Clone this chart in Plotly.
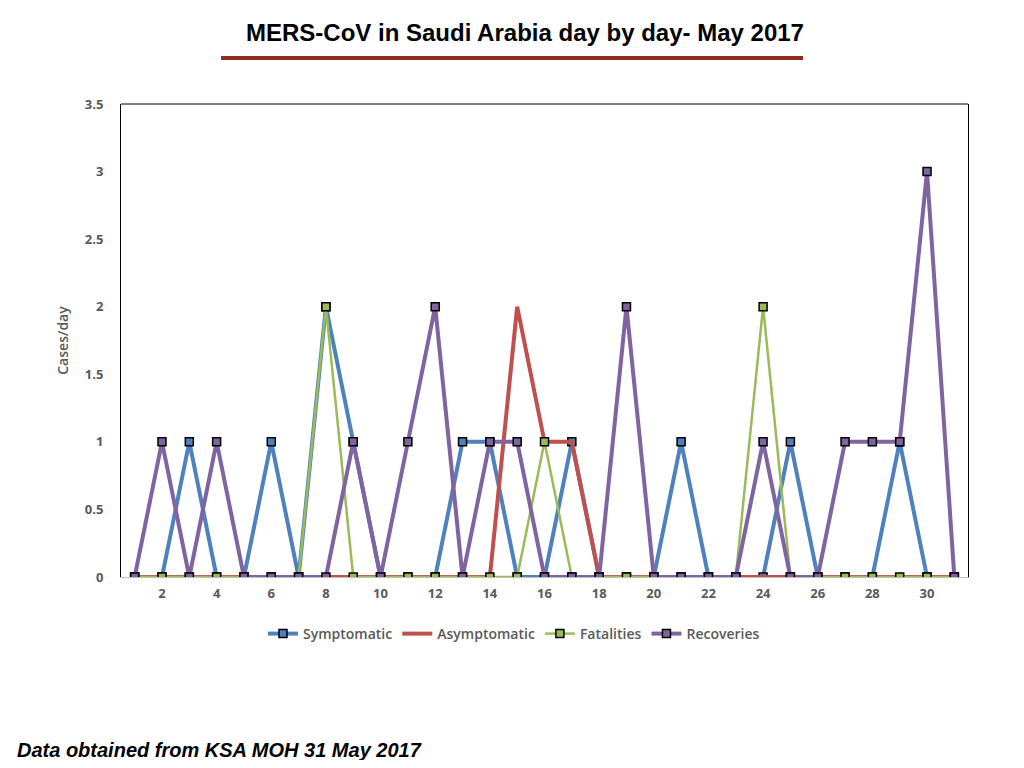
import plotly.graph_objects as go

days = list(range(1, 32))
symptomatic = [0, 0, 1, 0, 0, 1, 0, 2, 1, 0, 0, 0, 1, 1, 0, 0, 1, 0, 0, 0,
               1, 0, 0, 0, 1, 0, 0, 0, 1, 0, 0]
asymptomatic = [0, 0, 0, 0, 0, 0, 0, 0, 0, 0, 0, 0, 0, 0, 2, 1, 1, 0, 0, 0,
                0, 0, 0, 0, 0, 0, 0, 0, 0, 0, 0]
fatalities = [0, 0, 0, 0, 0, 0, 0, 2, 0, 0, 0, 0, 0, 0, 0, 1, 0, 0, 0, 0,
              0, 0, 0, 2, 0, 0, 0, 0, 0, 0, 0]
recoveries = [0, 1, 0, 1, 0, 0, 0, 0, 1, 0, 1, 2, 0, 1, 1, 0, 0, 0, 2, 0,
              0, 0, 0, 1, 0, 0, 1, 1, 1, 3, 0]

tick_days = list(range(2, 31, 2))
gray = '#595959'

series = [
    ('Symptomatic', symptomatic, '#4F81BD', 4, True),
    ('Asymptomatic', asymptomatic, '#C0504D', 4, False),
    ('Fatalities', fatalities, '#9BBB59', 2.5, True),
    ('Recoveries', recoveries, '#8064A2', 4, True),
]

fig = go.Figure()
for name, values, color, width, markers in series:
    fig.add_trace(go.Scatter(
        x=days, y=values, name=name,
        mode='lines+markers' if markers else 'lines',
        line=dict(color=color, width=width),
        marker=dict(symbol='square', size=8, color=color,
                    line=dict(color='black', width=1.5)),
    ))


def px_x(p):
    # screen pixel -> paper x
    return (p - 121) / 847


def px_y(p):
    # screen pixel -> paper y
    return (577 - p) / 473


fig.update_layout(
    width=1008, height=752,
    margin=dict(l=113, r=48, t=96, b=183),
    paper_bgcolor='white', plot_bgcolor='white',
    font=dict(family='Open Sans', color=gray, size=12),
    showlegend=True,
    legend=dict(orientation='h', x=px_x(514), xanchor='center', y=px_y(618), yanchor='top',
                font=dict(size=14, color=gray, family='Open Sans', weight=600),
                itemwidth=30, tracegroupgap=0),
    xaxis=dict(range=[0.5, 31.5], tickvals=tick_days, showgrid=False,
               zeroline=False, showline=True, linecolor='#BFBFBF', linewidth=1,
               tickfont=dict(size=13, color=gray, family='Open Sans', weight='bold'),
               ticks='', ticklabelstandoff=4),
    yaxis=dict(range=[0, 3.5], dtick=0.5, showgrid=False, zeroline=False,
               showline=True, linecolor='black', linewidth=1, mirror=True,
               tickfont=dict(size=13, color=gray, family='Open Sans', weight='bold'),
               ticklabelstandoff=14,
               title=dict(text='Cases/day', standoff=12,
                          font=dict(size=14, color=gray, family='Open Sans', weight=600))),
    shapes=[
        dict(type='line', xref='paper', yref='paper', x0=0, x1=1, y0=1, y1=1,
             line=dict(color='black', width=1)),
        dict(type='line', xref='paper', yref='paper',
             x0=px_x(221), x1=px_x(803), y0=px_y(58), y1=px_y(58),
             line=dict(color='#8E2A1E', width=4)),
    ],
    annotations=[
        dict(text='MERS-CoV in Saudi Arabia day by day- May 2017',
             xref='paper', yref='paper', x=px_x(525), y=px_y(32),
             xanchor='center', yanchor='middle', showarrow=False,
             font=dict(family='Liberation Sans', size=24, color='black', weight='bold')),
        dict(text='<i>Data obtained from KSA MOH 31 May 2017</i>',
             xref='paper', yref='paper', x=px_x(15), y=px_y(750),
             xanchor='left', yanchor='middle', showarrow=False,
             font=dict(family='Liberation Sans', size=20, color='black', weight='bold')),
    ],
)

fig.write_html('out.html')
